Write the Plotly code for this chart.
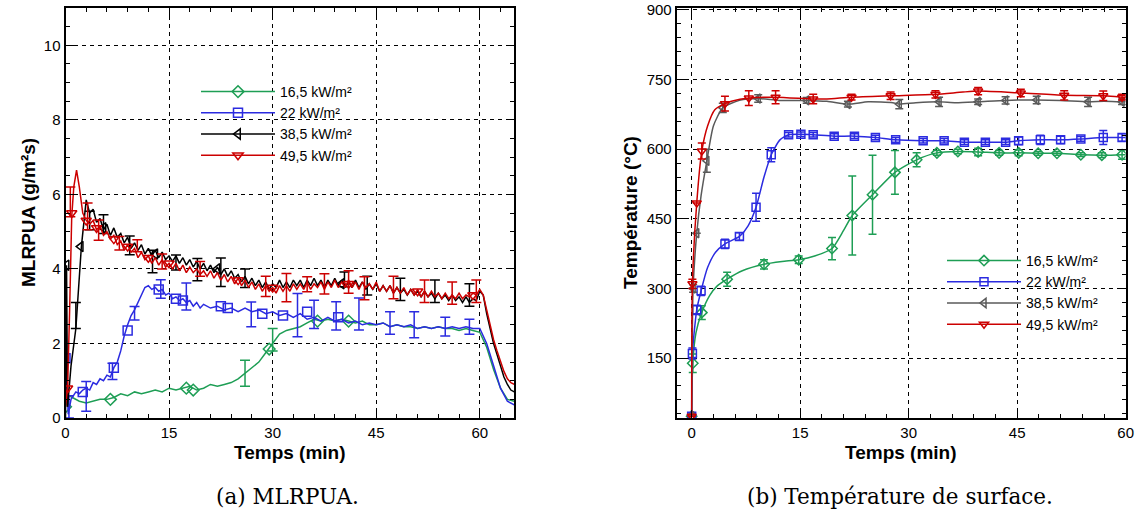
import numpy as np
import plotly.graph_objects as go

# ===================== (a) MLRPUA (g/m2s) vs Temps (min) =====================
series_names = ["16,5 kW/m²", "22 kW/m²", "38,5 kW/m²", "49,5 kW/m²"]

# 16,5 kW/m2
a_green_t = [0, 0.5] + list(range(1, 66))
a_green_v = [0.3, 0.6,
             0.55, 0.45, 0.4, 0.45, 0.5, 0.5, 0.55, 0.65, 0.6, 0.7,
             0.65, 0.7, 0.75, 0.7, 0.8, 0.75, 0.8, 0.85, 0.75, 0.8,
             0.9, 0.85, 0.9, 0.95, 1.05, 1.2, 1.35, 1.5, 1.75, 2.0,
             2.25, 2.35, 2.4, 2.45, 2.55, 2.65, 2.6, 2.65, 2.6, 2.65,
             2.6, 2.55, 2.6, 2.5, 2.5, 2.55, 2.45, 2.5, 2.45, 2.45,
             2.4, 2.45, 2.4, 2.45, 2.4, 2.4, 2.35, 2.4, 2.35, 2.3,
             1.9, 1.3, 0.8, 0.5, 0.45]

# 22 kW/m2
a_blue_t = [0, 0.4, 0.8, 1.5] + list(np.arange(2, 20.01, 0.5)) + list(range(21, 66))
a_blue_v = [1.6, 0.1, 0.5, 0.7,
            0.65, 0.75, 0.8, 0.75, 0.95, 0.9, 1.05, 1.0, 1.15, 1.1,
            1.35, 1.5, 1.8, 2.2, 2.5, 2.75, 2.9, 3.1, 3.3, 3.5,
            3.55, 3.45, 3.5, 3.4, 3.45, 3.3, 3.35, 3.2, 3.25, 3.15,
            3.2, 3.1, 3.15, 3.0, 3.1, 2.95, 3.05,
            2.95, 3.0, 2.9, 2.95, 2.85, 2.95, 2.85, 2.9, 2.8, 2.85,
            2.75, 2.8, 2.7, 2.8, 2.65, 2.7, 2.6, 2.7, 2.6, 2.65,
            2.55, 2.6, 2.5, 2.55, 2.5, 2.55, 2.45, 2.5, 2.45, 2.5,
            2.4, 2.45, 2.4, 2.45, 2.4, 2.45, 2.4, 2.45, 2.4, 2.4,
            2.0, 1.4, 0.8, 0.45, 0.35]

# 38,5 kW/m2
a_black_t = [0, 0.15, 0.3, 0.8, 1.5, 2.3] + list(np.arange(3.0, 65.01, 0.5))
a_black_v = [0, 4.1, 0.3, 1.4, 2.4, 4.6,
             5.85, 5.5, 5.6, 5.25, 5.35, 5.05, 5.2, 4.9, 5.1, 4.85,
             4.95, 4.7, 4.85, 4.55, 4.7, 4.5, 4.65, 4.4, 4.55, 4.35,
             4.5, 4.3, 4.45, 4.25, 4.35, 4.2, 4.35, 4.15, 4.3, 4.1,
             4.25, 4.05, 4.2, 4.0, 4.15, 3.95, 4.1, 3.9, 4.05, 3.85,
             4.0, 3.8, 3.95, 3.75, 3.85, 3.65, 3.8, 3.6, 3.75, 3.55,
             3.7, 3.5, 3.65, 3.45, 3.6, 3.5, 3.7, 3.5, 3.65, 3.5,
             3.7, 3.55, 3.7, 3.5, 3.7, 3.55, 3.75, 3.55, 3.7, 3.5,
             3.7, 3.55, 3.75, 3.55, 3.7, 3.5, 3.65, 3.5, 3.7, 3.5,
             3.65, 3.45, 3.6, 3.45, 3.6, 3.4, 3.55, 3.4, 3.55, 3.35,
             3.5, 3.35, 3.45, 3.3, 3.45, 3.3, 3.4, 3.25, 3.4, 3.25,
             3.35, 3.2, 3.35, 3.2, 3.3, 3.15, 3.3, 3.15, 3.25, 3.1,
             3.25, 3.1, 3.2, 3.15, 3.4, 3.3, 2.8, 2.4, 2.0, 1.7,
             1.4, 1.1, 0.9, 0.75, 0.7]

# 49,5 kW/m2
a_red_t = [0, 0.3, 0.6, 0.9, 1.2, 1.6, 2.0, 2.5] + list(np.arange(3.0, 65.01, 0.5))
a_red_v = [0.3, 0.8, 2.9, 5.4, 6.2, 6.65, 6.2, 5.5,
           5.3, 5.2, 5.3, 5.05, 5.15, 4.9, 5.0, 4.8, 4.9, 4.65,
           4.75, 4.5, 4.65, 4.45, 4.55, 4.3, 4.45, 4.25, 4.35, 4.15,
           4.3, 4.1, 4.25, 4.05, 4.15, 4.0, 4.15, 3.95, 4.1, 3.9,
           4.05, 3.9, 4.0, 3.85, 3.95, 3.8, 3.95, 3.75, 3.9, 3.7,
           3.85, 3.65, 3.8, 3.6, 3.75, 3.55, 3.7, 3.5, 3.65, 3.45,
           3.6, 3.4, 3.55, 3.4, 3.5, 3.35, 3.55, 3.4, 3.55, 3.4,
           3.6, 3.45, 3.6, 3.45, 3.65, 3.45, 3.6, 3.5, 3.65, 3.45,
           3.65, 3.5, 3.7, 3.5, 3.65, 3.5, 3.7, 3.5, 3.65, 3.45,
           3.65, 3.5, 3.6, 3.45, 3.65, 3.4, 3.55, 3.4, 3.55, 3.35,
           3.5, 3.35, 3.5, 3.3, 3.45, 3.3, 3.45, 3.25, 3.4, 3.25,
           3.4, 3.25, 3.35, 3.2, 3.35, 3.2, 3.3, 3.2, 3.35, 3.2,
           3.3, 3.25, 3.35, 3.3, 3.45, 3.3, 2.9, 2.5, 2.1, 1.8,
           1.5, 1.25, 1.05, 0.95, 0.9]

# markers (a)
a_green_mk_t = [0, 6.5, 17.5, 18.5, 29.5, 36.5, 41]
a_green_mk_v = [0.3, 0.5, 0.8, 0.75, 1.85, 2.6, 2.6]
a_blue_mk_t = [0, 2.5, 7, 9, 13.5, 16, 17, 22.5, 23.5, 28.5, 31.5, 35, 39.5]
a_blue_mk_v = [1.6, 0.7, 1.35, 2.35, 3.45, 3.2, 3.15, 3.0, 2.95, 2.8, 2.75, 2.85, 2.7]
a_black_mk_t = [0.15, 2.2, 5.5, 13, 22, 40]
a_black_mk_v = [4.1, 4.6, 5.1, 4.4, 4.0, 3.6]
a_red_mk_t = [0.3, 0.9, 3, 4.5, 7, 9, 12, 15, 25, 30, 41, 51, 59]
a_red_mk_v = [0.8, 5.5, 5.3, 5.1, 4.8, 4.6, 4.3, 4.15, 3.7, 3.5, 3.6, 3.4, 3.3]

# error bars (a): time, centre, half-width
a_green_eb_t = [26, 30]
a_green_eb_v = [1.2, 2.1]
a_green_eb_e = [0.35, 0.3]
a_blue_eb_t = [0.5, 3, 6.8, 10, 13.8, 17.5, 26.9, 33.6, 36, 39.2, 42.5, 47, 50.5, 55, 58.5]
a_blue_eb_v = [0.3, 0.58, 1.25, 2.81, 3.46, 3.26, 2.78, 2.76, 2.78, 2.74, 2.79, 2.55, 2.5, 2.45, 2.45]
a_blue_eb_e = [0.3, 0.4, 0.22, 0.18, 0.25, 0.36, 0.33, 0.58, 0.38, 0.38, 0.43, 0.3, 0.35, 0.25, 0.2]
a_black_eb_t = [1.5, 3.5, 5.5, 9.3, 12.6, 16, 19.1, 22.5, 26, 40.4, 43.7, 48.5, 53.5, 58.5]
a_black_eb_v = [2.75, 5.3, 5.2, 4.63, 4.2, 4.17, 3.98, 3.91, 3.75, 3.72, 3.55, 3.45, 3.4, 3.3]
a_black_eb_e = [0.35, 0.25, 0.25, 0.25, 0.3, 0.2, 0.3, 0.38, 0.25, 0.2, 0.25, 0.3, 0.3, 0.3]
a_red_eb_t = [0.7, 3.2, 4.8, 7.8, 10.4, 14, 19.5, 29, 32, 35, 37.5, 41, 43.3, 47.5, 52, 56, 59.5]
a_red_eb_v = [5.8, 5.41, 5.04, 4.69, 4.62, 4.2, 4.0, 3.53, 3.5, 3.59, 3.6, 3.65, 3.48, 3.5, 3.4, 3.35, 3.4]
a_red_eb_e = [0.4, 0.36, 0.27, 0.18, 0.16, 0.2, 0.2, 0.27, 0.38, 0.2, 0.27, 0.3, 0.31, 0.3, 0.3, 0.3, 0.3]

# ===================== (b) Température (°C) vs Temps (min) =====================
b_green_t = [0, 0.15, 0.6, 1.4, 2.5, 3.5, 4.9, 7, 10, 12.5, 14.8, 17, 19.4, 21, 22.2, 25, 28.1,
             31.1, 33.9, 36.8, 39.6, 42.5, 45.2, 47.9, 50.5, 53.8, 56.7, 59.5, 60]
b_green_v = [25, 139, 205, 248, 285, 305, 320, 338, 352, 358, 362, 370, 386, 425, 457, 502, 550,
             577, 592, 595, 594, 592, 592, 591, 591, 588, 587, 588, 588]
b_green_mk_t = [0, 0.15, 1.4, 4.9, 10, 14.8, 19.4, 22.2, 25, 28.1, 31.1, 33.9, 36.8, 39.6,
                42.5, 45.2, 47.9, 50.5, 53.8, 56.7, 59.5]
b_green_mk_v = [25, 139, 248, 320, 352, 362, 386, 457, 502, 550, 577, 592, 595, 594,
                592, 592, 591, 591, 588, 587, 588]
b_green_mk_e = [None, 20, 15, 15, 10, 8, 24, 85, 85, 47, 15, 5, 5, 8,
                5, 6, 4, 4, 4, 5, 10]

b_blue_t = [0, 0.1, 0.7, 1.3, 2.2, 3.3, 4.6, 6.6, 7.8, 8.9, 10, 11, 12.2, 13.4, 15.1, 16.8,
            19.7, 22.5, 25.4, 28.2, 32, 34.9, 37.7, 40.6, 43.4, 45.2, 48.2, 51, 53.8, 56.9, 59.5, 60]
b_blue_v = [25, 160, 254, 295, 345, 378, 396, 412, 435, 475, 540, 588, 620, 631, 632, 631,
            628, 628, 625, 620, 618, 618, 615, 615, 615, 618, 620, 620, 622, 625, 625, 625]
b_blue_mk_t = [0, 0.1, 0.7, 1.3, 4.6, 6.6, 8.9, 11, 13.4, 15.1, 16.8, 19.7, 22.5, 25.4, 28.2,
               32, 34.9, 37.7, 40.6, 43.4, 45.2, 48.2, 51, 53.8, 56.9, 59.5]
b_blue_mk_v = [25, 160, 254, 295, 396, 412, 475, 588, 631, 632, 631, 628, 628, 625, 620,
               618, 618, 615, 615, 615, 618, 620, 620, 622, 625, 625]
b_blue_mk_e = [None, 12, 10, 10, 10, 8, 30, 15, 5, 5, 5, 5, 5, 5, 5,
               5, 5, 5, 5, 5, 8, 10, 8, 5, 15, 8]

b_gray_t = [0, 0.2, 0.7, 1.3, 2.1, 3, 4.3, 6.6, 9.2, 12.1, 15.9, 18.7, 21.6, 24.4, 27.8, 28.7,
            31, 34.2, 36.5, 39.6, 43.4, 47.7, 51, 54.8, 57, 59.5, 60]
b_gray_v = [25, 300, 419, 500, 575, 650, 689, 705, 709, 705, 705, 703, 697, 702, 700, 697,
            700, 702, 700, 702, 705, 706, 705, 702, 703, 702, 702]
b_gray_mk_t = [0, 0.2, 0.7, 2.1, 4.3, 9.2, 15.9, 21.6, 28.7, 34.2, 39.6, 43.4, 47.7, 54.8, 59.5]
b_gray_mk_v = [25, 300, 419, 575, 689, 709, 705, 697, 697, 702, 702, 705, 706, 702, 702]
b_gray_mk_e = [None, 8, None, 25, 10, 8, 6, 6, 10, 10, 6, 8, 8, 10, 6]

b_red_t = [0, 0.1, 0.7, 1.4, 2.2, 3.2, 4.6, 5.5, 7.9, 11.6, 16.8, 18.7, 22.1, 27.5, 33.7, 37.5,
           39.6, 45.5, 51.5, 56.9, 59.5, 60]
b_red_v = [25, 310, 484, 596, 650, 685, 698, 703, 710, 712, 708, 708, 712, 715, 718, 723,
           725, 721, 716, 715, 712, 712]
b_red_mk_t = [0, 0.1, 0.7, 1.4, 4.6, 7.9, 11.6, 16.8, 22.1, 27.5, 33.7, 39.6, 45.5, 51.5, 56.9, 59.5]
b_red_mk_v = [25, 310, 484, 596, 698, 710, 712, 708, 712, 715, 718, 725, 721, 716, 715, 712]
b_red_mk_e = [None, 10, None, 17, 16, 16, 14, 10, 6, 8, 8, 8, 8, 10, 10, 6]

# ===================== styling =====================
GREEN = "#1E9E55"
BLUE = "#2B2BE0"
BLACK = "#000000"
GRAY = "#5A5A5A"
RED = "#CC0000"
SYM = ["diamond-open", "square-open", "triangle-left-open", "triangle-down-open"]
FONT = "Liberation Sans, Arial, sans-serif"

fig = go.Figure()


def add_line(x, y, color, xa, ya, shape="linear"):
    fig.add_trace(go.Scatter(x=x, y=y, mode="lines", xaxis=xa, yaxis=ya, showlegend=False,
                             line=dict(color=color, width=1.5, shape=shape, smoothing=0.6),
                             hoverinfo="skip"))


def add_markers(x, y, color, sym, size, xa, ya, err=None, capw=5):
    kw = {}
    if err is not None:
        kw["error_y"] = dict(type="data", array=err, visible=True, color=color,
                             thickness=1.5, width=capw)
    fig.add_trace(go.Scatter(x=x, y=y, mode="markers", xaxis=xa, yaxis=ya, showlegend=False,
                             marker=dict(symbol=sym, size=size, color=color,
                                         line=dict(color=color, width=1.5)),
                             hoverinfo="skip", **kw))


def add_errors(x, y, err, color, xa, ya, capw=5):
    fig.add_trace(go.Scatter(x=x, y=y, mode="markers", xaxis=xa, yaxis=ya, showlegend=False,
                             marker=dict(size=1, color="rgba(0,0,0,0)"),
                             error_y=dict(type="data", array=err, visible=True, color=color,
                                          thickness=1.5, width=capw),
                             hoverinfo="skip"))


# ---- panel (a)
a_cols = [GREEN, BLUE, BLACK, RED]
a_lines = [(a_green_t, a_green_v), (a_blue_t, a_blue_v), (a_black_t, a_black_v), (a_red_t, a_red_v)]
a_mks = [(a_green_mk_t, a_green_mk_v), (a_blue_mk_t, a_blue_mk_v),
         (a_black_mk_t, a_black_mk_v), (a_red_mk_t, a_red_mk_v)]
a_ebs = [(a_green_eb_t, a_green_eb_v, a_green_eb_e), (a_blue_eb_t, a_blue_eb_v, a_blue_eb_e),
         (a_black_eb_t, a_black_eb_v, a_black_eb_e), (a_red_eb_t, a_red_eb_v, a_red_eb_e)]
for i in range(4):
    add_line(*a_lines[i], a_cols[i], "x", "y")
    add_errors(*a_ebs[i], a_cols[i], "x", "y", capw=5)
    add_markers(*a_mks[i], a_cols[i], SYM[i], 9, "x", "y")

# ---- panel (b)
b_cols = [GREEN, BLUE, GRAY, RED]
b_lines = [(b_green_t, b_green_v), (b_blue_t, b_blue_v), (b_gray_t, b_gray_v), (b_red_t, b_red_v)]
b_mks = [(b_green_mk_t, b_green_mk_v, b_green_mk_e), (b_blue_mk_t, b_blue_mk_v, b_blue_mk_e),
         (b_gray_mk_t, b_gray_mk_v, b_gray_mk_e), (b_red_mk_t, b_red_mk_v, b_red_mk_e)]
for i in range(4):
    add_line(*b_lines[i], b_cols[i], "x2", "y2", shape="spline")
    x, y, e = b_mks[i]
    add_markers(x, y, b_cols[i], SYM[i], 8, "x2", "y2", err=e, capw=4)

# ---- legend entries
for i in range(4):
    fig.add_trace(go.Scatter(x=[None], y=[None], mode="lines+markers", name=series_names[i],
                             xaxis="x", yaxis="y", legend="legend",
                             line=dict(color=a_cols[i], width=1.5),
                             marker=dict(symbol=SYM[i], size=9, color=a_cols[i],
                                         line=dict(color=a_cols[i], width=1.5))))
for i in range(4):
    fig.add_trace(go.Scatter(x=[None], y=[None], mode="lines+markers", name=series_names[i],
                             xaxis="x2", yaxis="y2", legend="legend2",
                             line=dict(color=b_cols[i], width=1.5),
                             marker=dict(symbol=SYM[i], size=8, color=b_cols[i],
                                         line=dict(color=b_cols[i], width=1.5))))

W, H = 1138, 521


def px_x(p):
    return p / W


def px_y(p):
    return 1 - p / H


axis_common = dict(showline=True, linecolor="black", linewidth=2, mirror="ticks",
                   ticks="inside", ticklen=8, tickwidth=1.3, tickcolor="black",
                   showgrid=True, gridcolor="black", gridwidth=1, griddash="4px,4px",
                   zeroline=False, tickfont=dict(family=FONT, size=15, color="black"),
                   layer="above traces", automargin=False, ticklabeloverflow="allow")

fig.update_layout(
    width=W, height=H,
    margin=dict(l=0, r=0, t=0, b=0, autoexpand=False),
    paper_bgcolor="white", plot_bgcolor="white",
    xaxis=dict(axis_common, domain=[px_x(65.5), px_x(514.3)], range=[0, 65], tick0=0, dtick=15,
               minor=dict(ticks="inside", ticklen=4, tickcolor="black", dtick=3, showgrid=False),
               anchor="y"),
    yaxis=dict(axis_common, domain=[px_y(418), px_y(8)], range=[0, 11], tick0=0, dtick=2,
               minor=dict(ticks="inside", ticklen=4, tickcolor="black", dtick=0.5, showgrid=False),
               anchor="x"),
    xaxis2=dict(axis_common, domain=[px_x(676.7), px_x(1125.7)], range=[-2.07, 60], tick0=0, dtick=15,
                minor=dict(ticks="inside", ticklen=4, tickcolor="black", dtick=3, showgrid=False),
                anchor="y2"),
    yaxis2=dict(axis_common, domain=[px_y(418), px_y(8)], range=[21, 904], tick0=0, dtick=150,
                minor=dict(ticks="inside", ticklen=4, tickcolor="black", dtick=30, showgrid=False),
                anchor="x2"),
    legend=dict(x=px_x(196), y=px_y(76), xanchor="left", yanchor="top", bgcolor="rgba(0,0,0,0)",
                font=dict(family=FONT, size=14, color="black"), itemwidth=74,
                tracegroupgap=0),
    legend2=dict(x=px_x(942), y=px_y(245), xanchor="left", yanchor="top", bgcolor="rgba(0,0,0,0)",
                 font=dict(family=FONT, size=14, color="black"), itemwidth=74,
                 tracegroupgap=0),
    showlegend=True,
)

title_font = dict(family=FONT, size=19, color="black", weight="bold")
cap_font = dict(family="DejaVu Serif, Liberation Serif, serif", size=21.5, color="black")
ann = [
    dict(text="Temps (min)", x=px_x(290), y=px_y(452), font=title_font),
    dict(text="Temps (min)", x=px_x(901), y=px_y(452), font=title_font),
    dict(text="MLRPUA (g/m²s)", x=px_x(28), y=px_y(213), font=title_font, textangle=-90),
    dict(text="Température (°C)", x=px_x(630), y=px_y(213), font=title_font, textangle=-90),
    dict(text="(a) MLRPUA.", x=px_x(287), y=px_y(496), font=cap_font),
    dict(text="(b) Température de surface.", x=px_x(900), y=px_y(496), font=cap_font),
]
for a in ann:
    fig.add_annotation(xref="paper", yref="paper", showarrow=False, xanchor="center",
                       yanchor="middle", **a)

# remove the default 8px page margin so the figure fills the window exactly
fig.write_html("out.html", config={"displayModeBar": False},
               post_script="document.body.style.margin='0px';")
